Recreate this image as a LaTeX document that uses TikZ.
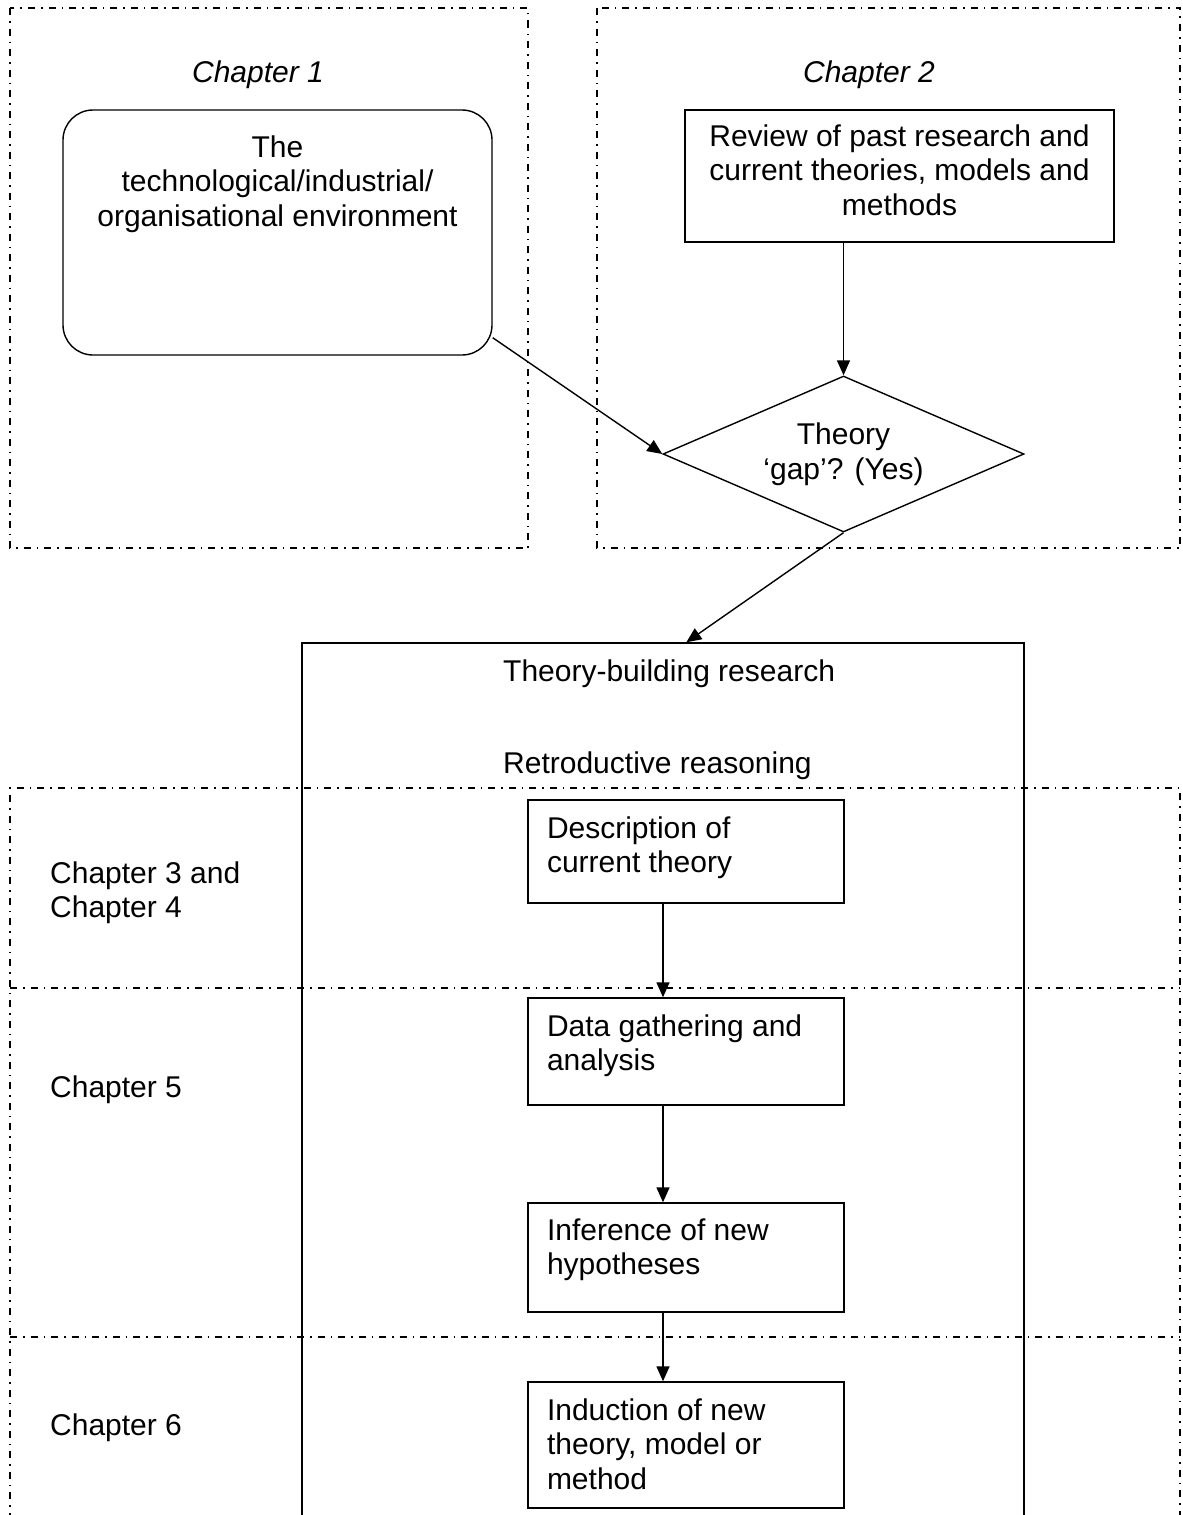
\documentclass[tikz,border=0pt]{standalone}
\usepackage{fontspec}
\setmainfont{Liberation Sans}
\usetikzlibrary{arrows.meta,shapes.geometric}
\newcommand{\mybox}[5]{\parbox[c][#1][t]{#2}{#3\rule{0pt}{#4}#5}}
\tikzset{
  base font/.style={font=\fontsize{30}{34.5}\selectfont},
  solidbox/.style={draw, line width=1.4pt, inner sep=0pt, base font},
  leftbox/.style={solidbox, inner xsep=19pt},
  dashdot/.style={line width=1.3pt, dash pattern=on 7pt off 6pt on 1.5pt off 6pt},
  arr/.style={line width=1.4pt, -{Triangle[length=15pt,width=13pt]}},
  plain/.style={inner sep=0pt, base font},
}
\begin{document}
\begin{tikzpicture}[x=1pt,y=-1pt]
\useasboundingbox (0,0) rectangle (1183,1515);
\clip (0,0) rectangle (1183,1515);
\fill[white] (0,0) rectangle (1183,1515);

% dashed chapter regions
\draw[dashdot] (10,8) rectangle (528,548);
\draw[dashdot] (597,8) rectangle (1180,548);
\draw[dashdot] (10,1540) -- (10,788) -- (1180,788) -- (1180,1540);
\draw[dashdot] (10,988) -- (1180,988);
\draw[dashdot] (10,1337) -- (1180,1337);

% chapter labels
\node[plain, anchor=base, font=\fontsize{30}{34.5}\selectfont\itshape] (ch1) at (258,82) {Chapter 1};
\node[plain, anchor=base, font=\fontsize{30}{34.5}\selectfont\itshape] (ch2) at (869,82) {Chapter 2};
\node[plain, anchor=base west] (ch34) at (50,883) {\parbox[t]{300pt}{Chapter 3 and\\Chapter 4}};
\node[plain, anchor=base west] (ch5) at (50,1097) {Chapter 5};
\node[plain, anchor=base west] (ch6) at (50,1435) {Chapter 6};

% top boxes
\node[solidbox, rounded corners=30pt] (env) at (277.5,232.5)
  {\mybox{245pt}{429pt}{\centering}{47pt}{The\\technological/industrial/\\organisational environment}};
\node[solidbox] (rev) at (899.5,176)
  {\mybox{132pt}{429pt}{\centering}{36pt}{Review of past research and\\current theories, models and\\methods}};

% decision diamond
\node[draw, line width=1.4pt, diamond, aspect=2.31, minimum width=361pt, minimum height=156pt,
      inner sep=0pt, align=center, base font] (gap) at (843.5,454) {Theory\\‘gap’? (Yes)};

% theory-building frame
\node[draw, line width=1.4pt, minimum width=722pt, minimum height=900pt, inner sep=0pt] (tbr) at (663,1093) {};
\node[plain, anchor=base west] (tbrlab) at (503,681) {Theory-building research};
\node[plain, anchor=base west] (retro) at (503,773) {Retroductive reasoning};

% inner steps
\node[leftbox] (desc) at (686,851.5)
  {\mybox{103pt}{278pt}{\raggedright}{38pt}{Description of\\current theory}};
\node[leftbox] (data) at (686,1051.5)
  {\mybox{107pt}{278pt}{\raggedright}{38pt}{Data gathering and\\analysis}};
\node[leftbox] (infer) at (686,1257.5)
  {\mybox{109pt}{278pt}{\raggedright}{37pt}{Inference of new\\hypotheses}};
\node[leftbox] (induct) at (686,1445)
  {\mybox{126pt}{278pt}{\raggedright}{38pt}{Induction of new\\theory, model or\\method}};

% connectors
\draw[arr] ([yshift=18pt]env.south east) -- (gap.west);
\draw[arr] (rev.south -| gap.north) -- (gap.north);
\draw[arr] (gap.south) -- ([xshift=385pt]tbr.north west);
\draw[arr] ([xshift=-23pt]desc.south) -- ([xshift=-23pt]data.north);
\draw[arr] ([xshift=-23pt]data.south) -- ([xshift=-23pt]infer.north);
\draw[arr] ([xshift=-23pt]infer.south) -- ([xshift=-23pt]induct.north);
\end{tikzpicture}
\end{document}
